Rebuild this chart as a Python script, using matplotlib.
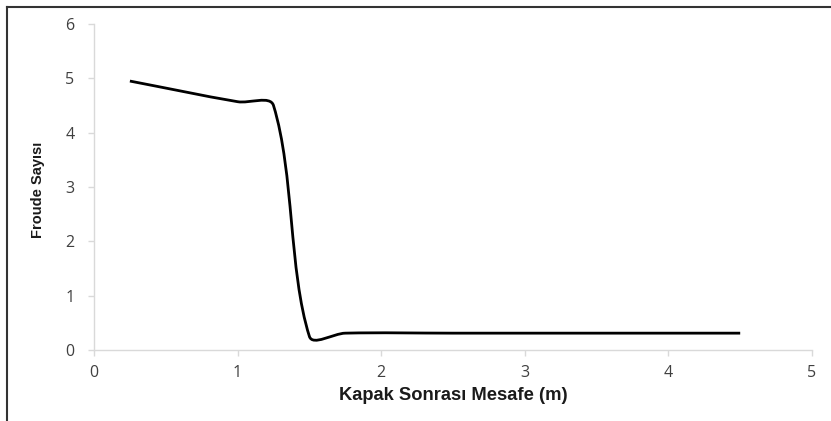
import matplotlib
matplotlib.use("Agg")
import matplotlib.pyplot as plt
import numpy as np
from matplotlib.path import Path
from matplotlib.patches import PathPatch
from matplotlib.lines import Line2D

# Data
mesafe = [0.25, 1.0, 1.25, 1.5, 1.75, 2.5, 3.5, 4.5]
froude = [4.95, 4.57, 4.50, 0.25, 0.31, 0.31, 0.31, 0.31]
x_ticks = [0, 1, 2, 3, 4, 5]
y_ticks = [0, 1, 2, 3, 4, 5, 6]
x_label = "Kapak Sonrası Mesafe (m)"
y_label = "Froude Sayısı"

W, H, DPI = 831, 421, 100
fig = plt.figure(figsize=(W / DPI, H / DPI), dpi=DPI)
ax = fig.add_axes([94 / W, 1 - 350 / H, (812 - 94) / W, (350 - 24) / H])
ax.set_xlim(0, 5)
ax.set_ylim(0, 6)

grey = "#d9d9d9"
for s in ["top", "right"]:
    ax.spines[s].set_visible(False)
for s in ["left", "bottom"]:
    ax.spines[s].set_color(grey)
    ax.spines[s].set_linewidth(1.0)
ax.set_xticks(x_ticks)
ax.set_yticks(y_ticks)
tick_font = ["Open Sans", "DejaVu Sans"]
ax.tick_params(axis="both", direction="out", length=4, width=1.0, color=grey,
               labelcolor="#404040", labelsize=11.5)
ax.tick_params(axis="y", pad=10)
ax.tick_params(axis="x", pad=7)
for lab in ax.get_xticklabels() + ax.get_yticklabels():
    lab.set_family(tick_font)

lab_font = ["Liberation Sans Narrow", "Liberation Sans", "DejaVu Sans"]
ax.set_xlabel(x_label, family=lab_font, fontweight="bold", fontsize=13.2, color="#1a1a1a")
ax.xaxis.set_label_coords(0.5, -0.112)
ax.set_ylabel(y_label, family=lab_font, fontweight="bold", fontsize=10.5, color="#1a1a1a")
ax.yaxis.set_label_coords(-0.068, 0.49)

# Smoothed line (Excel-style) via Bezier path built in display space
fig.canvas.draw()
pts = ax.transData.transform(np.column_stack([mesafe, froude]))
n = len(pts)
verts = [pts[0]]
codes = [Path.MOVETO]
for i in range(n - 1):
    p0 = pts[i - 1] if i > 0 else pts[i]
    p1 = pts[i]
    p2 = pts[i + 1]
    p3 = pts[i + 2] if i + 2 < n else pts[i + 1]
    d01 = np.hypot(*(p1 - p0))
    d12 = np.hypot(*(p2 - p1))
    d23 = np.hypot(*(p3 - p2))
    f1 = d12 / (d01 + d12) / 1.5 if d01 + d12 > 0 else 0
    f2 = d12 / (d12 + d23) / 1.5 if d12 + d23 > 0 else 0
    c1 = p1 + (p2 - p0) * f1 / 2
    c2 = p2 - (p3 - p1) * f2 / 2
    verts += [c1, c2, p2]
    codes += [Path.CURVE4] * 3
verts = ax.transData.inverted().transform(np.array(verts))
path = Path(verts, codes)
ax.add_patch(PathPatch(path, facecolor="none", edgecolor="black", lw=2.0,
                       capstyle="butt", joinstyle="round"))

# Outer chart border (top and left visible)
fig.add_artist(Line2D([6.5 / W, 6.5 / W], [0, 1 - 7 / H], color="#333333", lw=1.5,
                      transform=fig.transFigure))
fig.add_artist(Line2D([6.5 / W, 1], [1 - 7 / H, 1 - 7 / H], color="#333333", lw=1.5,
                      transform=fig.transFigure))

fig.savefig("out.png", dpi=DPI)
